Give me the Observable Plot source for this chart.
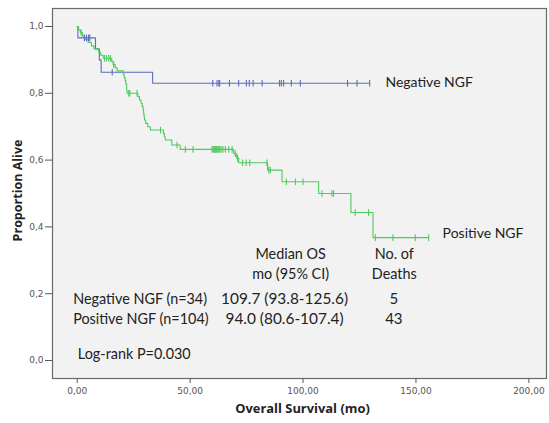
<!DOCTYPE html>
<html>
<head>
<meta charset="utf-8">
<script src="https://cdn.jsdelivr.net/npm/d3@7"></script>
<script src="https://cdn.jsdelivr.net/npm/@observablehq/plot@0.6"></script>
<style>
  html, body { margin: 0; padding: 0; background: #ffffff; }
</style>
</head>
<body>
<div id="chart"></div>
<script>
// ---- Data (Kaplan–Meier steps, months / proportion alive) ----
const negName = "Negative NGF";
const negTimes = [0, 0.3, 8.1, 9.8, 10.6, 33.4];
const negSurv  = [1.0, 0.966, 0.933, 0.900, 0.863, 0.830];
const negCensor = [3.2, 4.1, 5.0, 5.6, 15.5, 60.0, 61.9, 62.7, 63.1, 67.4, 71.5, 74.9, 76.2, 77.9, 81.9, 89.6, 90.4, 91.4, 94.8, 98.8, 119.7, 123.9, 129.5];

const posName = "Positive NGF";
const posTimes = [0, 0.6, 1.4, 2.4, 3.3, 4.8, 6.3, 7.4, 9.5, 10.4, 11.5, 15.3, 15.9, 16.8, 17.7, 20.4, 20.8, 21.2, 21.5, 21.9, 22.1, 26.9, 27.6, 28.3, 28.8, 29.2, 29.4, 29.6, 29.8, 30.3, 31.2, 32.4, 38.2, 38.6, 39.0, 41.9, 45.6, 69.3, 70.6, 71.5, 84.3, 90.7, 106.9, 121.2, 131.0];
const posSurv  = [1.0, 0.990, 0.981, 0.971, 0.962, 0.952, 0.942, 0.933, 0.923, 0.914, 0.905, 0.895, 0.886, 0.876, 0.867, 0.857, 0.847, 0.838, 0.828, 0.810, 0.800, 0.790, 0.780, 0.770, 0.760, 0.750, 0.740, 0.730, 0.720, 0.710, 0.700, 0.690, 0.680, 0.670, 0.660, 0.645, 0.632, 0.619, 0.606, 0.592, 0.570, 0.535, 0.500, 0.443, 0.368];
const posCensor = [1.8, 12.1, 13.0, 14.0, 14.7, 16.2, 22.8, 23.3, 26.5, 36.9, 44.2, 47.9, 51.3, 59.7, 60.2, 60.5, 61.0, 61.2, 61.6, 62.2, 62.7, 63.1, 63.7, 64.5, 65.6, 67.1, 68.6, 70.0, 71.0, 73.2, 74.8, 76.4, 84.0, 84.8, 85.5, 92.6, 96.6, 100.0, 108.4, 112.8, 113.5, 123.1, 129.0, 132.0, 139.8, 149.7, 155.6];

const xTicks = [0, 50, 100, 150, 200];
const yTicks = [0, 0.2, 0.4, 0.6, 0.8, 1.0];

const tableHeader1 = ["Median OS", "mo (95% CI)"];
const tableHeader2 = ["No. of", "Deaths"];
const tableRows = ["Negative NGF (n=34)", "Positive NGF (n=104)"];
const tableMedians = ["109.7 (93.8-125.6)", "94.0 (80.6-107.4)"];
const tableDeaths = ["5", "43"];
const logRank = "Log-rank P=0.030";

const xLabel = "Overall Survival (mo)";
const yLabel = "Proportion Alive";

// ---- Build tables ----
function survAt(times, surv, t) {
  let s = surv[0];
  for (let i = 0; i < times.length; i++) if (times[i] <= t) s = surv[i];
  return s;
}
function buildLine(name, times, surv, censor) {
  const pts = times.map((t, i) => ({group: name, t, s: surv[i]}));
  const tEnd = Math.max(...censor, ...times);
  pts.push({group: name, t: tEnd, s: survAt(times, surv, tEnd)});
  return pts;
}
function buildCensor(name, times, surv, censor) {
  return censor.map(t => ({group: name, t, s: survAt(times, surv, t)}));
}
const lines = [
  ...buildLine(negName, negTimes, negSurv, negCensor),
  ...buildLine(posName, posTimes, posSurv, posCensor)
];
const cens = [
  ...buildCensor(negName, negTimes, negSurv, negCensor),
  ...buildCensor(posName, posTimes, posSurv, posCensor)
];

const colors = {[negName]: "#5a6ebd", [posName]: "#4fca5d"};

const vtick = {
  draw(ctx, size) {
    const h = Math.sqrt(size / Math.PI);
    ctx.moveTo(0, -h);
    ctx.lineTo(0, h);
  }
};

const fmtX = d => d.toFixed(2).replace(".", ",");
const fmtY = d => d.toFixed(1).replace(".", ",");
const textFont = "Lato";
const fs = 14.4;

const chart = Plot.plot({
  width: 549,
  height: 423,
  marginLeft: 52,
  marginRight: 3,
  marginTop: 8,
  marginBottom: 45,
  style: {background: "#ffffff", fontFamily: "DejaVu Sans"},
  x: {domain: [-10.94, 207.8]},
  y: {domain: [-0.0539, 1.0539]},
  color: {domain: [negName, posName], range: [colors[negName], colors[posName]]},
  marks: [
    Plot.frame({fill: "#f2f2f2", stroke: "#6a6a6a", strokeWidth: 1.2}),
    Plot.axisX({ticks: xTicks, tickFormat: fmtX, tickSize: 5, tickPadding: 4, fontSize: 9, color: "#555", label: null}),
    Plot.axisY({ticks: yTicks, tickFormat: fmtY, tickSize: 7, tickPadding: 2, fontSize: 9, color: "#555", label: null}),
    Plot.line(lines, {x: "t", y: "s", z: "group", stroke: "group", curve: "step-after", strokeWidth: 1.1}),
    Plot.dot(cens, {x: "t", y: "s", stroke: "group", symbol: vtick, r: 3.3, strokeWidth: 1.1}),
    // series labels
    Plot.text([negName], {x: 136.5, y: 0.832, text: d => d, textAnchor: "start", fontSize: 14, fontFamily: textFont, fill: "#222"}),
    Plot.text([posName], {x: 161.8, y: 0.380, text: d => d, textAnchor: "start", fontSize: 14, fontFamily: textFont, fill: "#222"}),
    // table
    Plot.text(tableHeader1, {x: 94.5, y: (d, i) => [0.317, 0.259][i], text: d => d, fontSize: fs, fontFamily: textFont, fill: "#222"}),
    Plot.text(tableHeader2, {x: 140.4, y: (d, i) => [0.317, 0.259][i], text: d => d, fontSize: fs, fontFamily: textFont, fill: "#222"}),
    Plot.text(tableRows, {x: -1.8, y: (d, i) => [0.183, 0.124][i], text: d => d, textAnchor: "start", fontSize: fs, fontFamily: textFont, fill: "#222"}),
    Plot.text(tableMedians, {x: 91.8, y: (d, i) => [0.183, 0.124][i], text: d => d, fontSize: 15.4, fontFamily: textFont, fill: "#222"}),
    Plot.text(tableDeaths, {x: 140.2, y: (d, i) => [0.183, 0.124][i], text: d => d, fontSize: 15, fontFamily: textFont, fill: "#222"}),
    Plot.text([logRank], {x: 0.27, y: 0.018, text: d => d, textAnchor: "start", fontSize: fs, fontFamily: textFont, fill: "#222"}),
    // axis titles
    Plot.text([yLabel], {frameAnchor: "left", textAnchor: "middle", dx: -35, dy: -3, rotate: -90, text: d => d, fontSize: 12.5, fontWeight: "bold", fontFamily: "Open Sans", fill: "#222"}),
    Plot.text([xLabel], {frameAnchor: "bottom", textAnchor: "middle", dx: 3, dy: 34, text: d => d, fontSize: 12.9, fontWeight: "bold", fontFamily: "Open Sans", fill: "#222"})
  ]
});
document.getElementById("chart").appendChild(chart);
</script>
</body>
</html>
